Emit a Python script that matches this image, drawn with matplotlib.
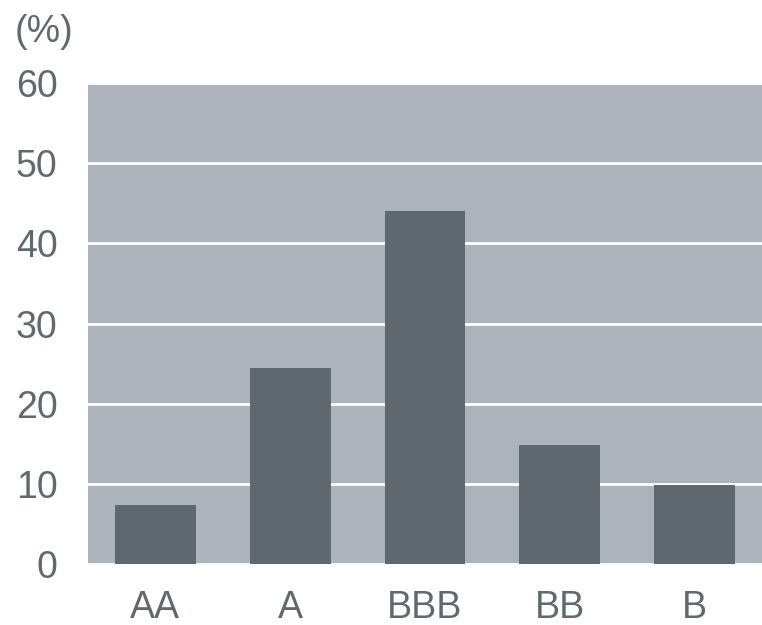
import matplotlib.pyplot as plt

# Rating categories and share (%)
ratings = ['AA', 'A', 'BBB', 'BB', 'B']
shares = [7.3, 24.5, 44.0, 14.8, 9.8]
yticks = [0, 10, 20, 30, 40, 50, 60]

text_color = '#5f6a70'
bar_color = '#5e686e'
bg_color = '#adb3ba'

plt.rcParams['font.family'] = ['Liberation Sans', 'DejaVu Sans']

fig = plt.figure(figsize=(7.62, 6.25), dpi=100)
ax = fig.add_axes([88 / 762, 1 - 564 / 625, 674 / 762, 481 / 625])
ax.set_facecolor(bg_color)

ax.bar(range(len(ratings)), shares, width=0.6, color=bar_color, zorder=3)

ax.set_xlim(-0.5, len(ratings) - 0.5)
ax.set_ylim(0, 60)
ax.set_yticks(yticks)
ax.set_xticks(range(len(ratings)))
ax.set_xticklabels(ratings)
ax.yaxis.grid(True, color='white', linewidth=2, zorder=1)
ax.set_axisbelow(True)

for s in ax.spines.values():
    s.set_visible(False)
ax.tick_params(length=0, labelsize=27, colors=text_color)
ax.tick_params(axis='y', pad=22)
ax.tick_params(axis='x', pad=19)

fig.text(15 / 762, 1 - 32 / 625, '(%)', fontsize=27, color=text_color, va='center', ha='left')

fig.savefig('out.png', dpi=100)
